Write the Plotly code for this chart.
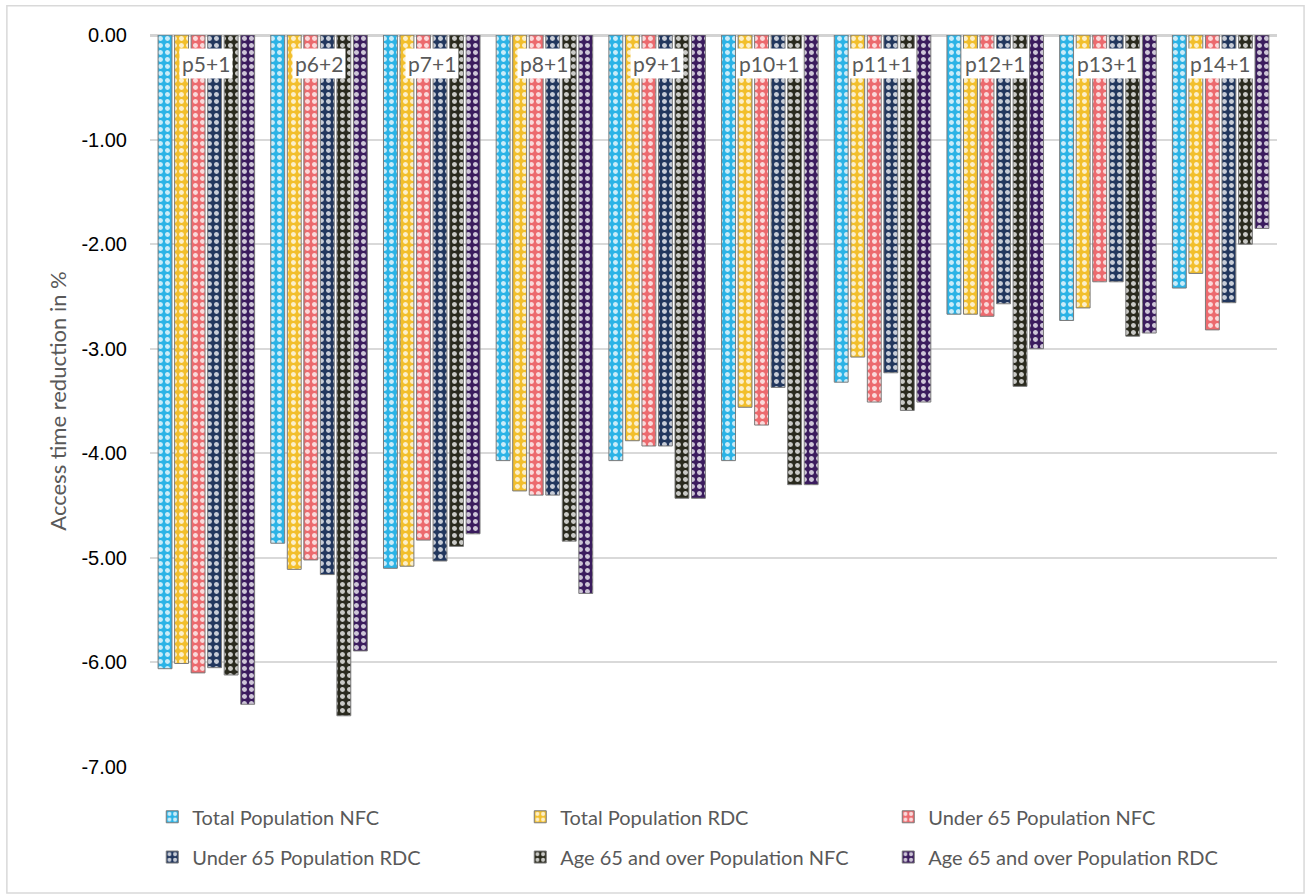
import plotly.graph_objects as go

# Scenario labels (one group of bars per scenario)
scenarios = ["p5+1", "p6+2", "p7+1", "p8+1", "p9+1",
             "p10+1", "p11+1", "p12+1", "p13+1", "p14+1"]

# Access time reduction in %, per population group and facility type
total_nfc = [-6.06, -4.86, -5.10, -4.07, -4.07, -4.07, -3.32, -2.67, -2.73, -2.42]
total_rdc = [-6.01, -5.11, -5.08, -4.36, -3.88, -3.56, -3.08, -2.67, -2.61, -2.28]
under65_nfc = [-6.10, -5.02, -4.83, -4.40, -3.93, -3.73, -3.51, -2.69, -2.36, -2.82]
under65_rdc = [-6.05, -5.16, -5.03, -4.40, -3.93, -3.37, -3.23, -2.57, -2.36, -2.56]
age65_nfc = [-6.12, -6.51, -4.89, -4.84, -4.43, -4.30, -3.59, -3.36, -2.88, -2.00]
age65_rdc = [-6.40, -5.89, -4.77, -5.34, -4.43, -4.30, -3.51, -3.00, -2.85, -1.85]

y_ticks = [0, -1, -2, -3, -4, -5, -6, -7]
y_tick_text = [f"{v:.2f}" for v in y_ticks]

series = [
    ("Total Population NFC", total_nfc, "#2BB3E6", "legend"),
    ("Total Population RDC", total_rdc, "#F2BF2C", "legend"),
    ("Under 65 Population NFC", under65_nfc, "#EC6A6E", "legend"),
    ("Under 65 Population RDC", under65_rdc, "#22375E", "legend2"),
    ("Age 65 and over Population NFC", age65_nfc, "#2A2A1E", "legend2"),
    ("Age 65 and over Population RDC", age65_rdc, "#3B1C5E", "legend2"),
]

TEXT_FONT = "Lato, Open Sans, sans-serif"
GREY_TEXT = "#595959"

fig = go.Figure()
for name, vals, color, leg in series:
    fig.add_trace(go.Bar(
        x=scenarios,
        y=vals,
        name=name,
        legend=leg,
        marker=dict(
            color=color,
            line=dict(color="#7A7A7A", width=1),
            pattern=dict(shape=".", fgcolor="white", bgcolor=color,
                         fgopacity=0.75, size=7, solidity=0.4),
        ),
    ))

# Scenario labels sit on the zero line, boxed in white over the bars
for s in scenarios:
    fig.add_annotation(
        x=s, y=0, xref="x", yref="y",
        text=s, showarrow=False,
        yanchor="top", yshift=-13,
        bgcolor="white", borderpad=2,
        font=dict(family=TEXT_FONT, size=21, color=GREY_TEXT),
    )

# Light outer frame around the chart area
fig.add_shape(
    type="rect", xref="paper", yref="paper",
    x0=-0.127, x1=1.024, y0=-0.172, y1=1.04,
    line=dict(color="#D9D9D9", width=1.5),
    fillcolor="rgba(0,0,0,0)", layer="below",
)

legend_common = dict(
    orientation="h",
    xanchor="left",
    yanchor="middle",
    entrywidth=323,
    itemwidth=30,
    bgcolor="rgba(0,0,0,0)",
    font=dict(family=TEXT_FONT, size=20, color=GREY_TEXT),
)

fig.update_layout(
    width=1305,
    height=895,
    margin=dict(l=150, r=28, t=35, b=128),
    paper_bgcolor="white",
    plot_bgcolor="white",
    barmode="group",
    bargap=0.12,
    bargroupgap=0.16,
    xaxis=dict(
        showticklabels=False,
        showgrid=False,
        showline=False,
        zeroline=False,
        ticks="",
    ),
    yaxis=dict(
        range=[-7, 0],
        tickvals=y_ticks,
        ticktext=y_tick_text,
        showgrid=True,
        gridcolor="#D9D9D9",
        gridwidth=1.5,
        zeroline=True,
        zerolinecolor="#D3D3D3",
        zerolinewidth=3,
        showline=False,
        ticks="",
        ticklabelstandoff=22,
        tickfont=dict(family="Liberation Sans, Arial, sans-serif", size=20, color="black"),
        title=dict(
            text="Access time reduction in %",
            font=dict(family=TEXT_FONT, size=22, color=GREY_TEXT),
            standoff=8,
        ),
    ),
    legend=dict(x=0.002, y=-0.068, **legend_common),
    legend2=dict(x=0.002, y=-0.123, **legend_common),
    showlegend=True,
)

fig.write_html("out.html")
